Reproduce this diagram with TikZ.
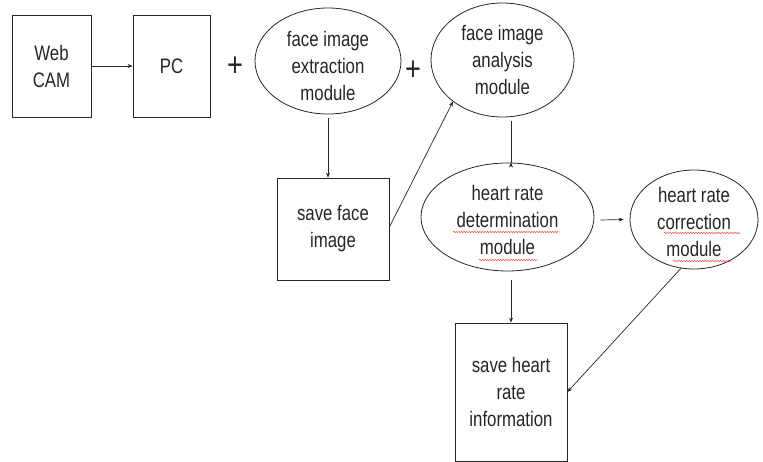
\documentclass[tikz,border=0pt]{standalone}
\usepackage{fontspec}
\setmainfont{Liberation Sans}[FakeStretch=0.8]
\usetikzlibrary{shapes.geometric,arrows.meta,decorations.pathmorphing}
\begin{document}
\begin{tikzpicture}[x=1pt,y=-1pt,
  every node/.style={text=black!85, font=\fontsize{21}{27}\selectfont, align=center},
  box/.style={draw=black!85, line width=0.8pt, inner sep=0pt},
  oval/.style={draw=black!85, ellipse, line width=0.8pt, inner sep=0pt},
  arr/.style={draw=black!85, line width=0.7pt, -{Stealth[length=5pt,width=4pt]}},
  plain/.style={draw=black!85, line width=0.7pt},
  plus/.style={font=\fontsize{34}{34}\selectfont},
  wavy/.style={draw=red!70, line width=0.5pt, decorate, decoration={snake, amplitude=0.7pt, segment length=2.6pt}}]
\useasboundingbox (0,0) rectangle (763,462);

\node[box, minimum width=79pt, minimum height=102pt] (cam) at (51.5,66) {Web\\CAM};
\node[box, minimum width=77pt, minimum height=102pt] (pc) at (171.5,66) {PC};
\node[plus] (plusA) at (235,67) {+};
\node[oval, minimum width=146pt, minimum height=106pt] (ext) at (328,61) {};
\node (extT) at ([yshift=-5pt]ext.center) {face image\\extraction\\module};
\node[box, minimum width=112pt, minimum height=102pt] (sfi) at (333,229) {save face\\image};
\node[plus] (plusB) at (413,71) {+};
\node[oval, minimum width=143pt, minimum height=114pt] (ana) at (502.5,60) {face image\\analysis\\module};
\node[oval, minimum width=173pt, minimum height=108pt] (det) at (507.5,217) {};
\node (detT) at ([yshift=-3pt]det.center) {heart rate\\determination\\module};
\node[oval, minimum width=128pt, minimum height=99pt] (cor) at (694,219.5) {};
\node (corT) at ([yshift=-2pt]cor.center) {heart rate\\correction\\module};
\node[box, minimum width=112pt, minimum height=138pt] (shr) at (511,392) {save heart\\rate\\information};

\draw[arr] (cam.east) -- (pc.west);
\draw[arr] ([yshift=-4pt]ext.south) -- (ext.south |- sfi.north);
\draw[arr] ([yshift=2pt]sfi.east) -- (ana.220);
\draw[plain] ([xshift=8.5pt,yshift=-4pt]ana.south) -- ([xshift=3.5pt]det.north);
\draw[arr] ([xshift=3.5pt,yshift=-1pt]det.north) -- ([xshift=3.5pt]det.north);
\draw[arr] ([xshift=6pt,yshift=-3pt]det.east) -- ([xshift=-6pt]cor.west);
\draw[arr] ([xshift=3.5pt,yshift=-9pt]det.south) -- (shr.north);
\draw[arr] (cor.255) -- (shr.east);

\draw[wavy] (453,232) -- (559,232);
\draw[wavy] (479,260) -- (537,260);
\draw[wavy] (664,233) -- (740,233);
\draw[wavy] (673,261) -- (731,261);
\end{tikzpicture}
\end{document}
